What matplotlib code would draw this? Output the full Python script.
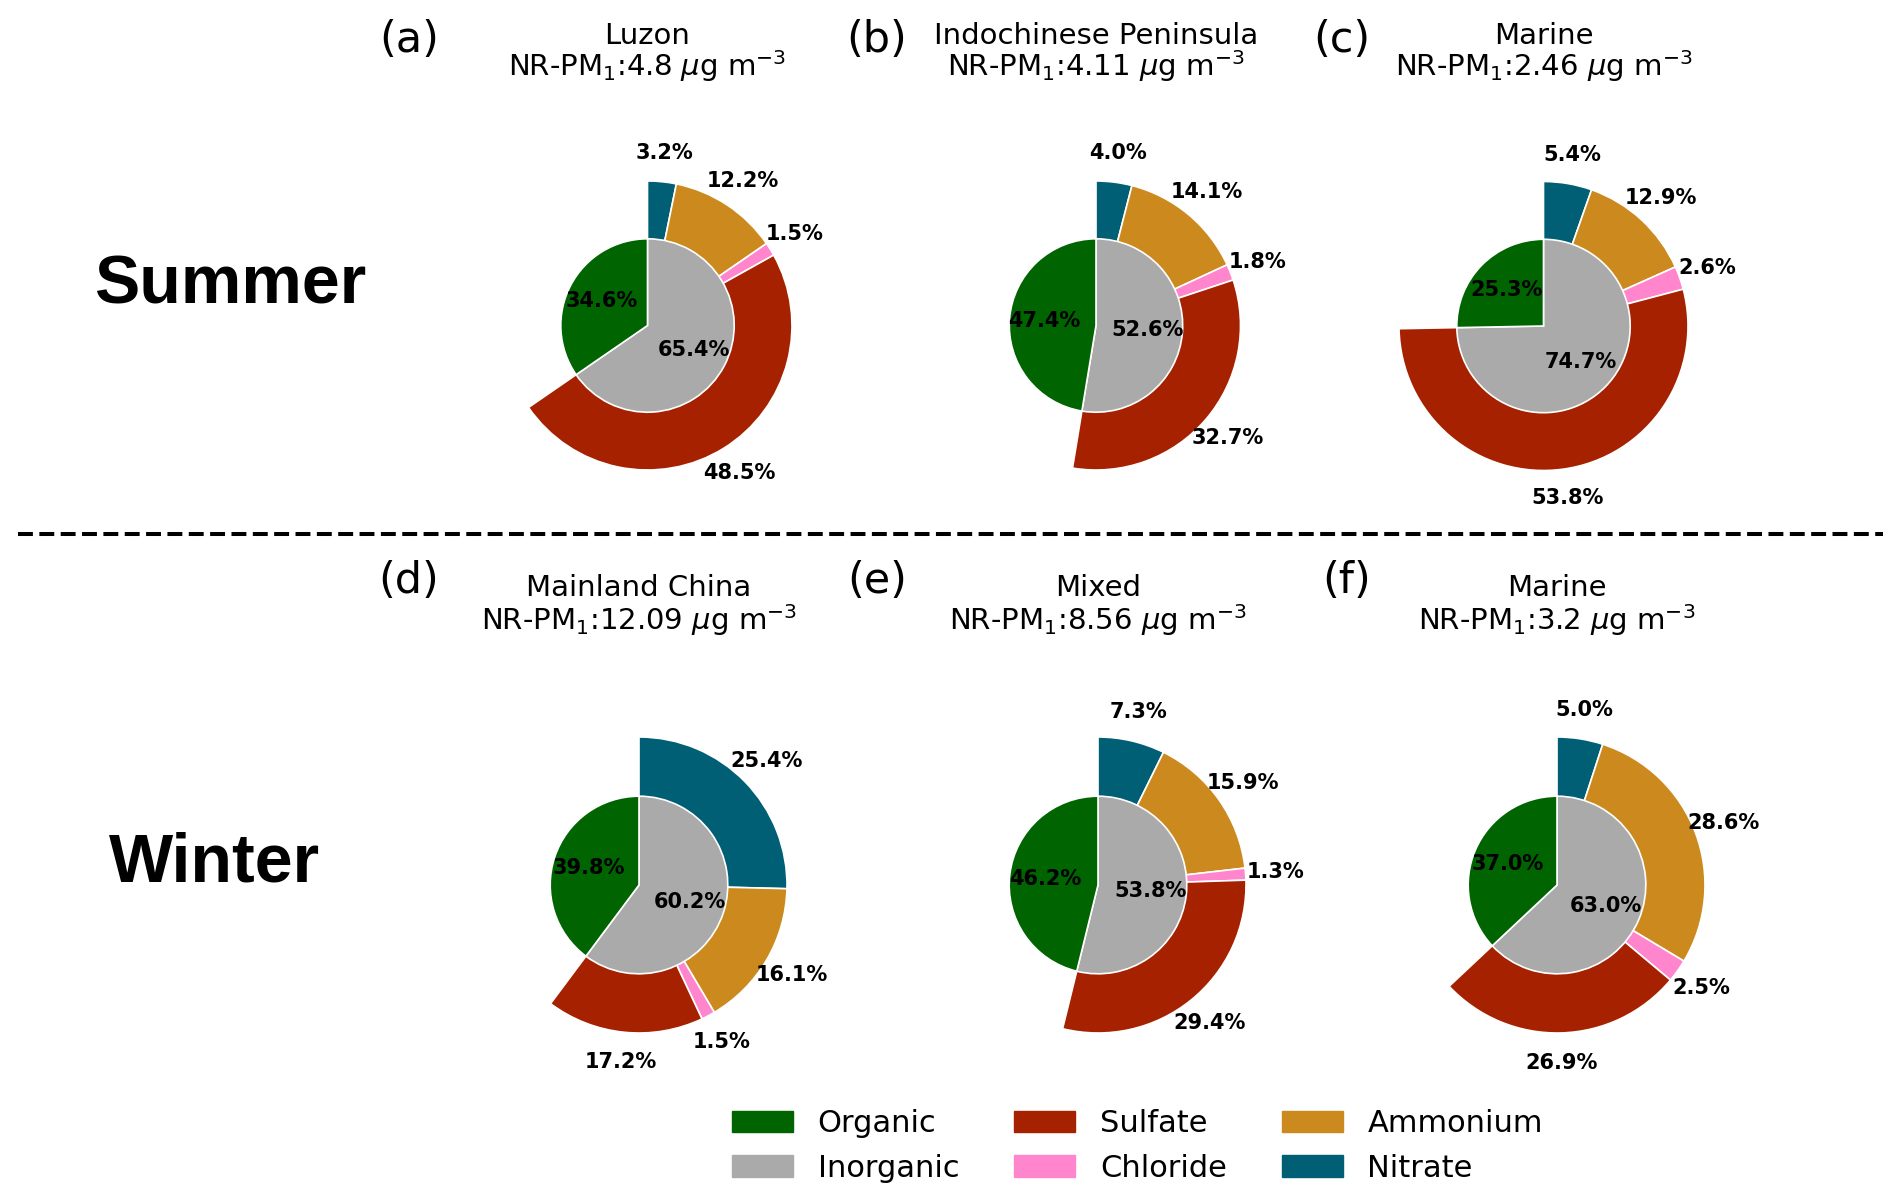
import matplotlib.pyplot as plt
import numpy as np
from matplotlib.lines import Line2D
from matplotlib.patches import Patch

W, H = 1892, 1201

# data (percent of NR-PM1)
panels = ['(a)', '(b)', '(c)', '(d)', '(e)', '(f)']
regions = ['Luzon', 'Indochinese Peninsula', 'Marine', 'Mainland China', 'Mixed', 'Marine']
nr_pm1 = ['4.8', '4.11', '2.46', '12.09', '8.56', '3.2']
organic = [34.6, 47.4, 25.3, 39.8, 46.2, 37.0]
nitrate = [3.2, 4.0, 5.4, 25.4, 7.3, 5.0]
ammonium = [12.2, 14.1, 12.9, 16.1, 15.9, 28.6]
chloride = [1.5, 1.8, 2.6, 1.5, 1.3, 2.5]
sulfate = [48.5, 32.7, 53.8, 17.2, 29.4, 26.9]
seasons = ['Summer', 'Winter']

c_org = '#006400'
c_inorg = '#AAAAAA'
c_so4 = '#A52100'
c_chl = '#FF85CC'
c_nh4 = '#CC8A1E'
c_no3 = '#005E75'

# layout in pixels (from top-left)
centers = [(647.5, 325.5), (1096, 325.5), (1543.5, 326),
           (639, 885), (1098, 885), (1557, 885)]
radii = [144.5, 144.5, 144.5, 148, 148, 148]
label_xy = [(409.5, 40), (877, 40), (1342, 40),
            (409, 581), (877, 581), (1347, 581)]
title_base = [(44, 76), (44, 76), (44, 76), (596, 630), (596, 630), (596, 630)]
season_xy = [(230, 304), (214, 882)]


def fx(x):
    return x / W


def fy(y):
    return 1 - y / H


fig = plt.figure(figsize=(W / 100, H / 100), dpi=100)

wp = dict(edgecolor='white', linewidth=1.2)
pct_font = dict(fontsize=15, fontweight='bold', color='black')

for i in range(6):
    cx, cy = centers[i]
    s = radii[i] * 2.5
    ax = fig.add_axes([fx(cx - s / 2), fy(cy + s / 2), s / W, s / H])

    outer = [nitrate[i], ammonium[i], chloride[i], sulfate[i], organic[i]]
    wedges, _, autotexts = ax.pie(outer, radius=1.0, startangle=90, counterclock=False,
                                  colors=[c_no3, c_nh4, c_chl, c_so4, 'white'],
                                  autopct='%1.1f%%', pctdistance=1.2,
                                  wedgeprops=wp, textprops=pct_font)
    # organic has no outer ring
    wedges[-1].set_visible(False)
    autotexts[-1].set_visible(False)

    inner = [sum(outer[:4]), organic[i]]
    ax.pie(inner, radius=0.6, startangle=90, counterclock=False,
           colors=[c_inorg, c_org], autopct='%1.1f%%', pctdistance=0.6,
           wedgeprops=wp, textprops=pct_font)
    ax.set_xlim(-1.25, 1.25)
    ax.set_ylim(-1.25, 1.25)
    ax.set_aspect('equal')

    y1, y2 = title_base[i]
    fig.text(fx(cx), fy(y1), regions[i], ha='center', va='baseline', fontsize=21)
    fig.text(fx(cx), fy(y2), 'NR-PM$_1$:' + nr_pm1[i] + ' $\\mu$g m$^{-3}$',
             ha='center', va='baseline', fontsize=21)
    lx, ly = label_xy[i]
    fig.text(fx(lx), fy(ly), panels[i], ha='center', va='center', fontsize=31)

for k, name in enumerate(seasons):
    sx, sy = season_xy[k]
    fig.text(fx(sx), fy(sy), name, ha='center', va='baseline',
             fontsize=49, fontweight='bold', family='Liberation Sans')

fig.add_artist(Line2D([fx(18), fx(1883)], [fy(534.3), fy(534.3)],
                      color='black', lw=2.9, ls='--'))

handles = [Patch(color=c_org, label='Organic'), Patch(color=c_inorg, label='Inorganic'),
           Patch(color=c_so4, label='Sulfate'), Patch(color=c_chl, label='Chloride'),
           Patch(color=c_nh4, label='Ammonium'), Patch(color=c_no3, label='Nitrate')]
fig.legend(handles=handles, ncol=3, loc='center', bbox_to_anchor=(fx(1137.5), fy(1146)),
           frameon=False, fontsize=22, labelspacing=0.5, columnspacing=1.8)

fig.savefig('out.png', dpi=100)
